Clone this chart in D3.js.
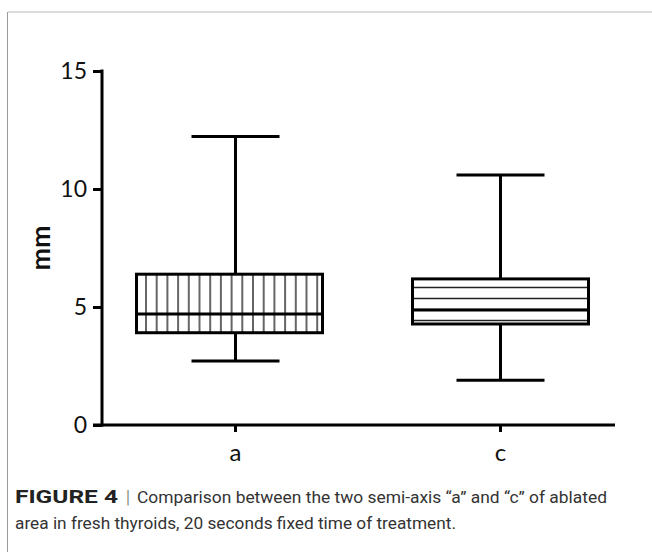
<!DOCTYPE html>
<html>
<head>
<meta charset="utf-8">
<script src="https://cdn.jsdelivr.net/npm/d3@7"></script>
<style>
  html, body { margin: 0; padding: 0; background: #fff; }
  svg { display: block; }
</style>
</head>
<body>
<svg id="chart" width="652" height="552"></svg>
<script>
// ---- data ----
const categories = ["a", "c"];
const whiskerMax = [12.22, 10.59];
const q3Values   = [6.39, 6.19];
const medians    = [4.70, 4.87];
const q1Values   = [3.91, 4.28];
const whiskerMin = [2.71, 1.90];
const yTicks     = [0, 5, 10, 15];
const yLabel     = "mm";
const captionBold = "FIGURE 4";
const captionLine1 = "Comparison between the two semi-axis \u201ca\u201d and \u201cc\u201d of ablated";
const captionLine2 = "area in fresh thyroids, 20 seconds fixed time of treatment.";

const boxes = categories.map((c, i) => ({
  cat: c, max: whiskerMax[i], q3: q3Values[i], med: medians[i], q1: q1Values[i], min: whiskerMin[i]
}));

const svg = d3.select("#chart");
const font = "Lato, 'Open Sans', sans-serif";
const capFont = "Roboto, 'Liberation Sans', sans-serif";

// frame
svg.append("line").attr("x1", 8).attr("x2", 652).attr("y1", 12).attr("y2", 12)
  .attr("stroke", "#cfcfcf").attr("stroke-width", 1.5);
svg.append("line").attr("x1", 7.5).attr("x2", 7.5).attr("y1", 12).attr("y2", 552)
  .attr("stroke", "#9a9a9a").attr("stroke-width", 1);

// scales
const y = d3.scaleLinear().domain([0, 15]).range([425, 71]);
const x = d3.scaleBand().domain(categories).range([103, 633]);
const cx = d => x(d) + x.bandwidth() / 2;
// box half-widths (left, right) as drawn in the original figure
const boxHalf = [[99, 87], [88, 88]];
const capW = 88;

// y axis
const yAxis = d3.axisLeft(y).tickValues(yTicks).tickSize(9).tickPadding(6).tickFormat(d3.format("d"));
const gy = svg.append("g").attr("transform", "translate(102,0)").call(yAxis);
gy.select(".domain").remove();
gy.append("line").attr("x1", 0).attr("x2", 0).attr("y1", 69.5).attr("y2", 426.5)
  .attr("stroke", "#000").attr("stroke-width", 3);
gy.selectAll(".tick line").attr("stroke", "#000").attr("stroke-width", 3);
gy.selectAll(".tick text").attr("font-family", font).attr("font-size", 23).attr("fill", "#111");

// x axis
const xAxis = d3.axisBottom(x).tickSize(7).tickPadding(12);
const gx = svg.append("g").attr("transform", "translate(0,425)").call(xAxis);
gx.select(".domain").remove();
gx.append("line").attr("x1", 93).attr("x2", 615).attr("y1", 0).attr("y2", 0)
  .attr("stroke", "#000").attr("stroke-width", 3);
gx.selectAll(".tick line").attr("stroke", "#000").attr("stroke-width", 3);
gx.selectAll(".tick text").attr("font-family", font).attr("font-size", 24).attr("fill", "#111");

// y label
svg.append("text").attr("transform", "translate(50,248) rotate(-90)")
  .attr("text-anchor", "middle").attr("font-family", font).attr("font-weight", "bold")
  .attr("font-size", 27).attr("fill", "#111").text(yLabel);

// boxes
const g = svg.append("g");
boxes.forEach((b, i) => {
  const c = cx(b.cat);
  const left = c - boxHalf[i][0], right = c + boxHalf[i][1];
  const top = y(b.q3), bot = y(b.q1);
  const bg = g.append("g");
  // whiskers
  bg.append("line").attr("x1", c).attr("x2", c).attr("y1", y(b.max)).attr("y2", top)
    .attr("stroke", "#000").attr("stroke-width", 3);
  bg.append("line").attr("x1", c).attr("x2", c).attr("y1", bot).attr("y2", y(b.min))
    .attr("stroke", "#000").attr("stroke-width", 3);
  bg.append("line").attr("x1", c - capW / 2).attr("x2", c + capW / 2).attr("y1", y(b.max)).attr("y2", y(b.max))
    .attr("stroke", "#000").attr("stroke-width", 3);
  bg.append("line").attr("x1", c - capW / 2).attr("x2", c + capW / 2).attr("y1", y(b.min)).attr("y2", y(b.min))
    .attr("stroke", "#000").attr("stroke-width", 3);
  // hatch
  if (i === 0) {
    d3.range(left + 9.5, right - 3, 10.7).forEach(hx => {
      bg.append("line").attr("x1", hx).attr("x2", hx).attr("y1", top).attr("y2", bot)
        .attr("stroke", "#666").attr("stroke-width", 2);
    });
  } else {
    d3.range(top + 8.5, bot - 2, 11).forEach(hy => {
      bg.append("line").attr("x1", left).attr("x2", right).attr("y1", hy).attr("y2", hy)
        .attr("stroke", "#222").attr("stroke-width", 1.5);
    });
  }
  bg.append("rect").attr("x", left).attr("y", top).attr("width", right - left).attr("height", bot - top)
    .attr("fill", "none").attr("stroke", "#000").attr("stroke-width", 3);
  bg.append("line").attr("x1", left).attr("x2", right).attr("y1", y(b.med)).attr("y2", y(b.med))
    .attr("stroke", "#000").attr("stroke-width", 3);
});

// caption
svg.append("text").attr("x", 15).attr("y", 503)
  .attr("font-family", capFont).attr("font-weight", "bold").attr("font-size", 17.5)
  .attr("fill", "#222").attr("textLength", 103).attr("lengthAdjust", "spacingAndGlyphs").text(captionBold);
svg.append("text").attr("x", 126).attr("y", 503)
  .attr("font-family", capFont).attr("font-size", 17.5).attr("font-weight", 300)
  .attr("fill", "#555").text("|");
svg.append("text").attr("x", 137).attr("y", 503)
  .attr("font-family", capFont).attr("font-size", 17.4).attr("fill", "#333")
  .attr("textLength", 470).attr("lengthAdjust", "spacingAndGlyphs").text(captionLine1);
svg.append("text").attr("x", 15).attr("y", 529)
  .attr("font-family", capFont).attr("font-size", 17.4).attr("fill", "#333")
  .attr("textLength", 441).attr("lengthAdjust", "spacingAndGlyphs").text(captionLine2);
</script>
</body>
</html>
